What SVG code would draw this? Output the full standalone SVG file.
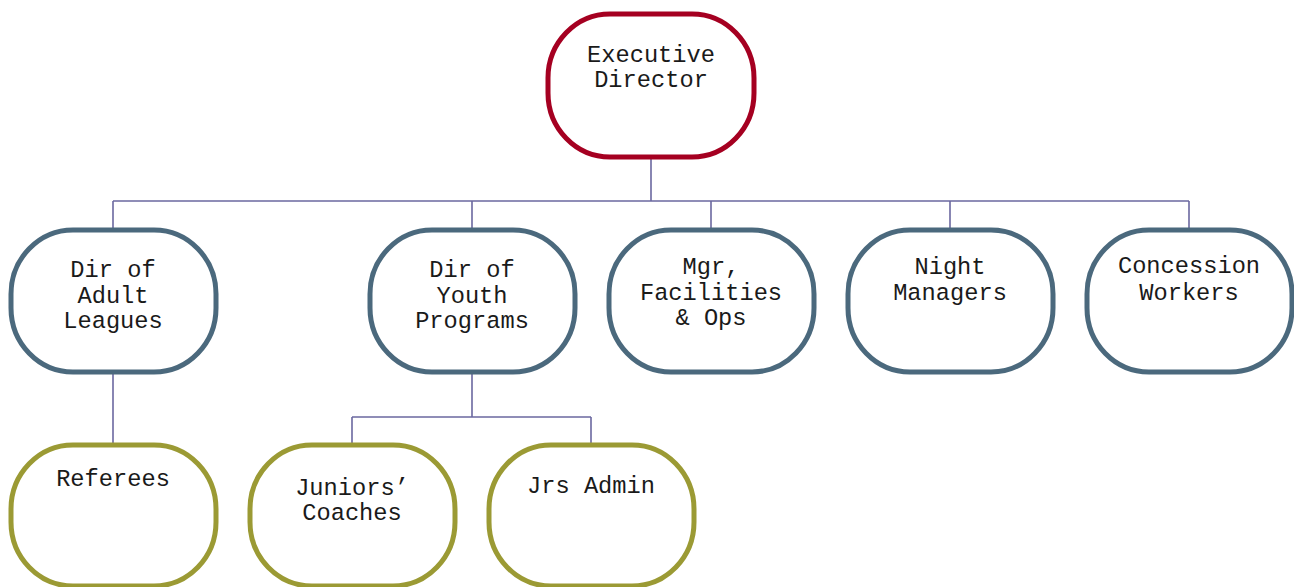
<svg xmlns="http://www.w3.org/2000/svg" width="1294" height="587" viewBox="0 0 1294 587">
<style>
.n rect{fill:#fff;stroke-width:5}
.r rect{stroke:#a50021}
.b rect{stroke:#4b697d}
.o rect{stroke:#9b9a34}
text{font-family:"Liberation Mono","Courier New",monospace;font-size:23.7px;fill:#1a1a1a;text-anchor:middle}
.c{fill:none;stroke:#6b68a0;stroke-width:1.6}
</style>
<g id="connectors" class="c">
<path d="M651 157V201M113 201H1189M113 201V229M472 201V229M711 201V229M950 201V229M1189 201V229"/>
<path d="M113 372V444"/>
<path d="M472 372V417M352 417H591M352 417V444M591 417V444"/>
</g>
<g id="exec" class="n r"><rect x="548" y="14" width="206" height="143" rx="62" ry="64"/><text x="651" y="62">Executive</text><text x="651" y="87">Director</text></g>
<g id="adult" class="n b"><rect x="11" y="230" width="205" height="142" rx="62" ry="64"/><text x="113" y="277">Dir of</text><text x="113" y="303">Adult</text><text x="113" y="328">Leagues</text></g>
<g id="youth" class="n b"><rect x="370" y="230" width="205" height="142" rx="62" ry="64"/><text x="472" y="277">Dir of</text><text x="472" y="303">Youth</text><text x="472" y="328">Programs</text></g>
<g id="mgr" class="n b"><rect x="609" y="230" width="205" height="142" rx="62" ry="64"/><text x="711" y="274">Mgr,</text><text x="711" y="300">Facilities</text><text x="711" y="325">&amp; Ops</text></g>
<g id="night" class="n b"><rect x="848" y="230" width="205" height="142" rx="62" ry="64"/><text x="950" y="274">Night</text><text x="950" y="300">Managers</text></g>
<g id="concession" class="n b"><rect x="1087" y="230" width="205" height="142" rx="62" ry="64"/><text x="1189" y="273">Concession</text><text x="1189" y="300">Workers</text></g>
<g id="referees" class="n o"><rect x="11" y="445" width="205" height="141" rx="62" ry="64"/><text x="113" y="486">Referees</text></g>
<g id="coaches" class="n o"><rect x="250" y="445" width="205" height="141" rx="62" ry="64"/><text x="352" y="495">Juniors’</text><text x="352" y="520">Coaches</text></g>
<g id="jrsadmin" class="n o"><rect x="489" y="445" width="205" height="141" rx="62" ry="64"/><text x="591" y="493">Jrs Admin</text></g>
</svg>
